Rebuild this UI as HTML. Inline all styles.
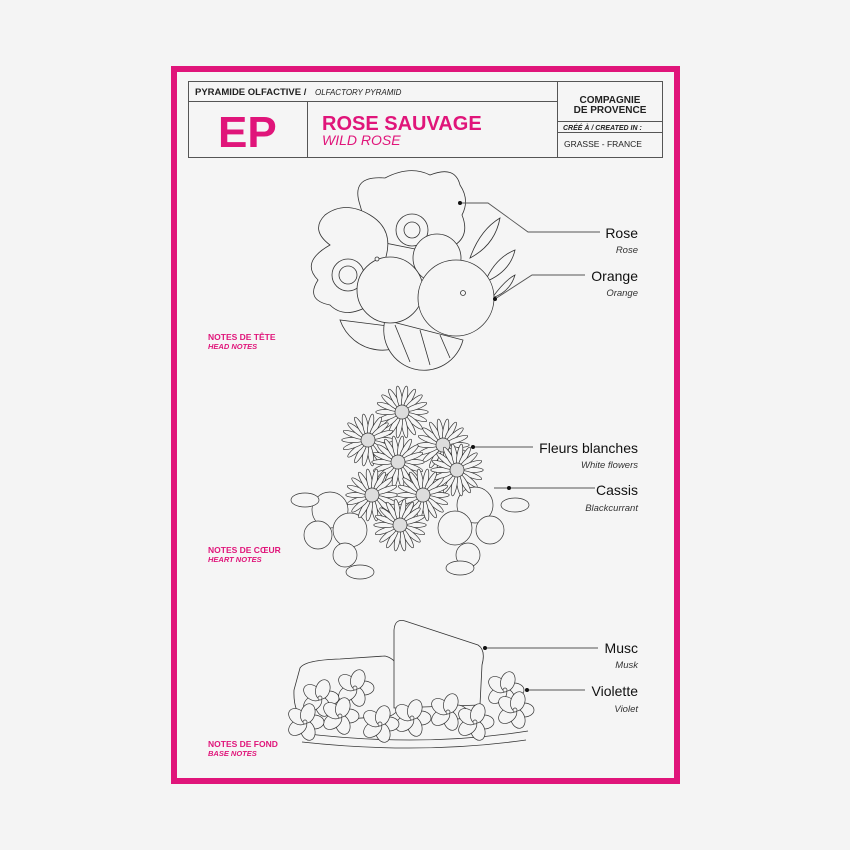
<!DOCTYPE html>
<html><head><meta charset="utf-8"><style>
html,body{margin:0;padding:0;background:#f4f4f4;}
svg{display:block;}
text{font-family:"Liberation Sans",sans-serif;}
</style></head><body>
<svg id="s" width="850" height="850" viewBox="0 0 850 850" xmlns="http://www.w3.org/2000/svg">
<rect width="850" height="850" fill="#f4f4f4"/>
<rect x="174" y="69" width="503" height="712" fill="#f5f5f5" stroke="#e0157a" stroke-width="6"/>
<g fill="none" stroke="#555" stroke-width="1">
<rect x="188.5" y="81.5" width="474" height="76"/>
<line x1="188" y1="101.5" x2="557" y2="101.5"/>
<line x1="307.5" y1="101" x2="307.5" y2="157"/>
<line x1="557.5" y1="81" x2="557.5" y2="157"/>
<line x1="557" y1="121.5" x2="662" y2="121.5"/>
<line x1="557" y1="132.5" x2="662" y2="132.5"/>
</g>
<text x="195" y="95" font-size="9.5" font-weight="bold" fill="#222">PYRAMIDE OLFACTIVE /</text>
<text x="315" y="95" font-size="8" font-style="italic" fill="#222">OLFACTORY PYRAMID</text>
<text x="218" y="147" font-size="44" font-weight="bold" fill="#e0157a">EP</text>
<text x="322" y="130" font-size="20" font-weight="bold" fill="#e0157a">ROSE SAUVAGE</text>
<text x="322" y="145" font-size="14" font-style="italic" fill="#e0157a">WILD ROSE</text>
<text x="610" y="103" font-size="10" font-weight="bold" fill="#222" text-anchor="middle">COMPAGNIE</text>
<text x="610" y="113" font-size="10" font-weight="bold" fill="#222" text-anchor="middle">DE PROVENCE</text>
<text x="563" y="130" font-size="7" font-weight="bold" font-style="italic" fill="#222">CRÉÉ À / CREATED IN :</text>
<text x="564" y="147" font-size="8.5" fill="#222">GRASSE - FRANCE</text>

<g fill="#e0157a" font-weight="bold">
<text x="208" y="340" font-size="8.5">NOTES DE TÊTE</text>
<text x="208" y="349" font-size="7.5" font-style="italic">HEAD NOTES</text>
<text x="208" y="553" font-size="8.5">NOTES DE CŒUR</text>
<text x="208" y="562" font-size="7.5" font-style="italic">HEART NOTES</text>
<text x="208" y="747" font-size="8.5">NOTES DE FOND</text>
<text x="208" y="756" font-size="7.5" font-style="italic">BASE NOTES</text>
</g>
<g fill="#111" text-anchor="end">
<text x="638" y="238" font-size="14">Rose</text>
<text x="638" y="253" font-size="9.5" font-style="italic" fill="#333">Rose</text>
<text x="638" y="281" font-size="14">Orange</text>
<text x="638" y="296" font-size="9.5" font-style="italic" fill="#333">Orange</text>
<text x="638" y="453" font-size="14">Fleurs blanches</text>
<text x="638" y="468" font-size="9.5" font-style="italic" fill="#333">White flowers</text>
<text x="638" y="495" font-size="14">Cassis</text>
<text x="638" y="511" font-size="9.5" font-style="italic" fill="#333">Blackcurrant</text>
<text x="638" y="653" font-size="14">Musc</text>
<text x="638" y="668" font-size="9.5" font-style="italic" fill="#333">Musk</text>
<text x="638" y="696" font-size="14">Violette</text>
<text x="638" y="712" font-size="9.5" font-style="italic" fill="#333">Violet</text>
</g>

<g id="art" stroke="#333" stroke-width="0.8" fill="#f5f5f5">
<path d="M360,205 Q350,175 385,178 Q410,165 430,175 Q455,165 460,185 Q470,200 462,215 Q470,235 455,245 L420,250 L370,240 Z"/>
<path d="M330,245 Q310,230 325,215 Q345,200 370,215 Q395,230 385,260 Q395,285 370,305 Q345,320 330,305 Q305,300 318,280 Q300,262 330,245 Z"/>
<circle cx="348" cy="275" r="16"/><circle cx="348" cy="275" r="9"/>
<circle cx="412" cy="230" r="16"/><circle cx="412" cy="230" r="8"/>
<path d="M470,258 Q480,230 500,218 Q495,245 470,258 Z"/>
<path d="M485,282 Q495,258 515,250 Q510,272 485,282 Z"/>
<path d="M492,298 Q505,280 515,275 Q510,292 492,298 Z"/>
<path d="M340,320 A45,45 0 0 0 420,330 Z"/>
<path d="M385,320 A40,40 0 0 0 463,340 Z"/>
<path d="M395,325 L410,362 M420,330 L430,365 M440,335 L450,358" fill="none"/>
<circle cx="437" cy="258" r="24"/>
<circle cx="390" cy="290" r="33"/>
<circle cx="456" cy="298" r="38"/>
<circle cx="463" cy="293" r="2.5"/>
<circle cx="377" cy="259" r="2"/>
</g>
<g id="daisies" stroke="#333" stroke-width="0.7"></g>
<g id="base" stroke="#333" stroke-width="0.8" fill="#f5f5f5">
<path d="M300,668 Q305,660 340,659 L385,656 Q402,660 404,690 Q402,712 390,716 L305,722 Q293,712 294,690 Z"/>
<path d="M394,630 Q395,618 405,621 L478,645 Q486,650 482,665 L480,705 L394,708 Z"/>
<path d="M300,733 Q420,748 528,731" fill="none"/>
<path d="M302,742 Q420,755 526,740" fill="none"/>
</g>
<g id="violets" stroke="#333" stroke-width="0.7"></g>
<g stroke="#555" stroke-width="0.9" fill="none">
<polyline points="460,203 488,203 528,232 600,232"/>
<polyline points="495,299 532,275 585,275"/>
<line x1="473" y1="447" x2="533" y2="447"/>
<line x1="494" y1="488" x2="595" y2="488"/>
<line x1="485" y1="648" x2="598" y2="648"/>
<line x1="525" y1="690" x2="585" y2="690"/>
</g>
<g fill="#111">
<circle cx="460" cy="203" r="2"/><circle cx="495" cy="299" r="2"/>
<circle cx="473" cy="447" r="2"/><circle cx="509" cy="488" r="2"/>
<circle cx="485" cy="648" r="2"/><circle cx="527" cy="690" r="2"/>
</g>
</svg>
<script>
var NS="http://www.w3.org/2000/svg";
function el(p,t,a){var e=document.createElementNS(NS,t);for(var k in a)e.setAttribute(k,a[k]);p.appendChild(e);return e;}
var d=document.getElementById("daisies");
[[330,510,18],[350,530,17],[318,535,14],[475,505,18],[455,528,17],[490,530,14],[345,555,12],[468,555,12]].forEach(function(b){el(d,"circle",{cx:b[0],cy:b[1],r:b[2],fill:"#f5f5f5"});});
[[305,500],[515,505],[360,572],[460,568]].forEach(function(l){el(d,"ellipse",{cx:l[0],cy:l[1],rx:14,ry:7,fill:"#f5f5f5"});});
[[402,412],[368,440],[443,445],[398,462],[457,470],[372,495],[423,495],[400,525]].forEach(function(c){
 var R=25,n=18;
 for(var i=0;i<n;i++){var a=i*2*Math.PI/n;
  var x=c[0]+Math.cos(a)*R*0.6,y=c[1]+Math.sin(a)*R*0.6;
  el(d,"ellipse",{cx:x,cy:y,rx:R*0.45,ry:2.6,transform:"rotate("+(a*180/Math.PI)+" "+x+" "+y+")",fill:"#f5f5f5"});}
 el(d,"circle",{cx:c[0],cy:c[1],r:7,fill:"#ddd"});
});
var v=document.getElementById("violets");
[[320,698],[355,688],[340,716],[305,722],[412,718],[448,712],[380,724],[475,722],[505,690],[515,710]].forEach(function(c){
 for(var i=0;i<5;i++){var a=i*72*Math.PI/180;var x=c[0]+Math.cos(a)*9,y=c[1]+Math.sin(a)*9;
  el(v,"ellipse",{cx:x,cy:y,rx:10,ry:7,transform:"rotate("+(i*72)+" "+x+" "+y+")",fill:"#f5f5f5"});}
 el(v,"circle",{cx:c[0],cy:c[1],r:2,fill:"#f5f5f5"});
});
</script>
</body></html>
